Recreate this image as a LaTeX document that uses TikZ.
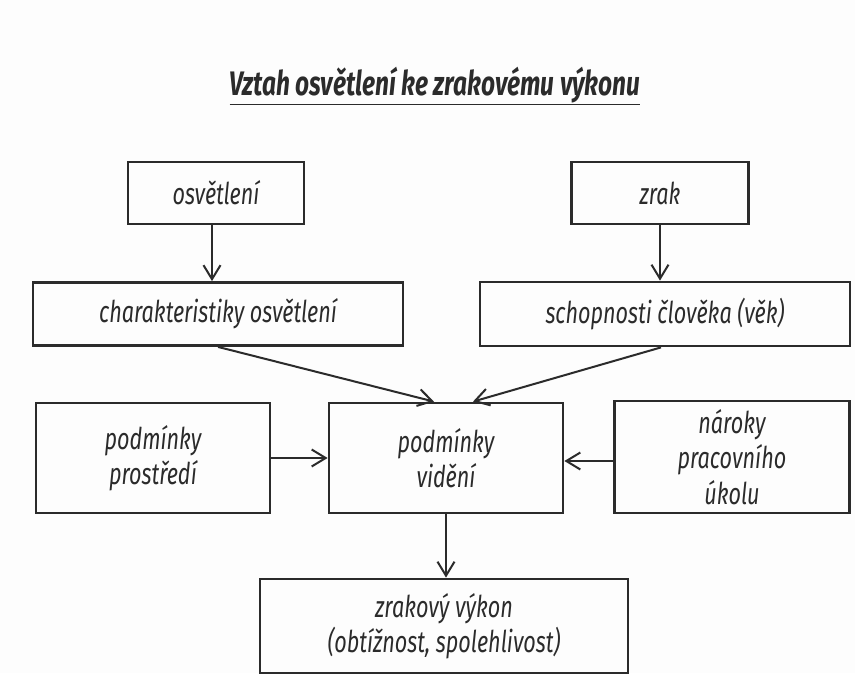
\documentclass[tikz,border=0pt]{standalone}
\usepackage{fontspec}
\setmainfont{Fira Sans}[FakeStretch=0.72]
\usepackage{tikz}
\usetikzlibrary{positioning,arrows.meta,calc}
\usepackage{xcolor}
\definecolor{inkdark}{HTML}{2B2B2B}
\definecolor{paperbg}{HTML}{FDFDFD}

\begin{document}
\begin{tikzpicture}[
          x=1pt,y=-1pt,
          box/.style={draw=inkdark,line width=2.8pt,fill=none,text=inkdark,
                      font=\itshape\fontsize{30}{35.5}\selectfont,align=center,inner sep=0pt},
          arr/.style={draw=inkdark,line width=2pt,-{Straight Barb[length=14pt,width=17pt,line width=2pt]}}]
        \fill[paperbg] (0,0) rectangle (855,673);
        \useasboundingbox (0,0) rectangle (855,673);
        \node[text=inkdark,font=\bfseries\itshape\fontsize{34}{38}\selectfont] (title) at (435,86)
              {\underline{Vztah osvětlení ke zrakovému výkonu}};
        \node[box,minimum width=176pt,minimum height=62pt] (osv) at (216,193) {osvětlení};
        \node[box,minimum width=177pt,minimum height=62pt] (zrak) at (660,193) {zrak};
        \node[box,minimum width=370pt,minimum height=63pt] (char) at (218,314) {charakteristiky osvětlení};
        \node[box,minimum width=370pt,minimum height=64pt] (schop) at (665,314) {schopnosti člověka (věk)};
        \node[box,minimum width=234pt,minimum height=110pt] (prost) at (153,458) {podmínky\\prostředí};
        \node[box,minimum width=234pt,minimum height=110pt] (vid) at (446,458) {podmínky\\vidění};
        \node[box,minimum width=235pt,minimum height=112pt] (narok) at (732,457) {nároky\\pracovního\\úkolu};
        \node[box,minimum width=368pt,minimum height=94pt] (vykon) at (444,626) {zrakový výkon\\(obtížnost, spolehlivost)};
        % arrows
        \draw[arr] ([xshift=-4pt]osv.south) -- ([xshift=-4pt]osv.south |- char.north);
        \draw[arr] (zrak.south) -- (zrak.south |- schop.north);
        \draw[arr] (char.south) -- ([xshift=-12pt]vid.north);
        \draw[arr] ([xshift=-4pt]schop.south) -- ([xshift=27pt]vid.north);
        \draw[arr] (prost.east) -- (vid.west);
        \draw[arr] ([yshift=-4pt]narok.west) -- ([yshift=-4pt]narok.west -| vid.east);
        \draw[arr] (vid.south) -- (vid.south |- vykon.north);
      \end{tikzpicture}
\end{document}
